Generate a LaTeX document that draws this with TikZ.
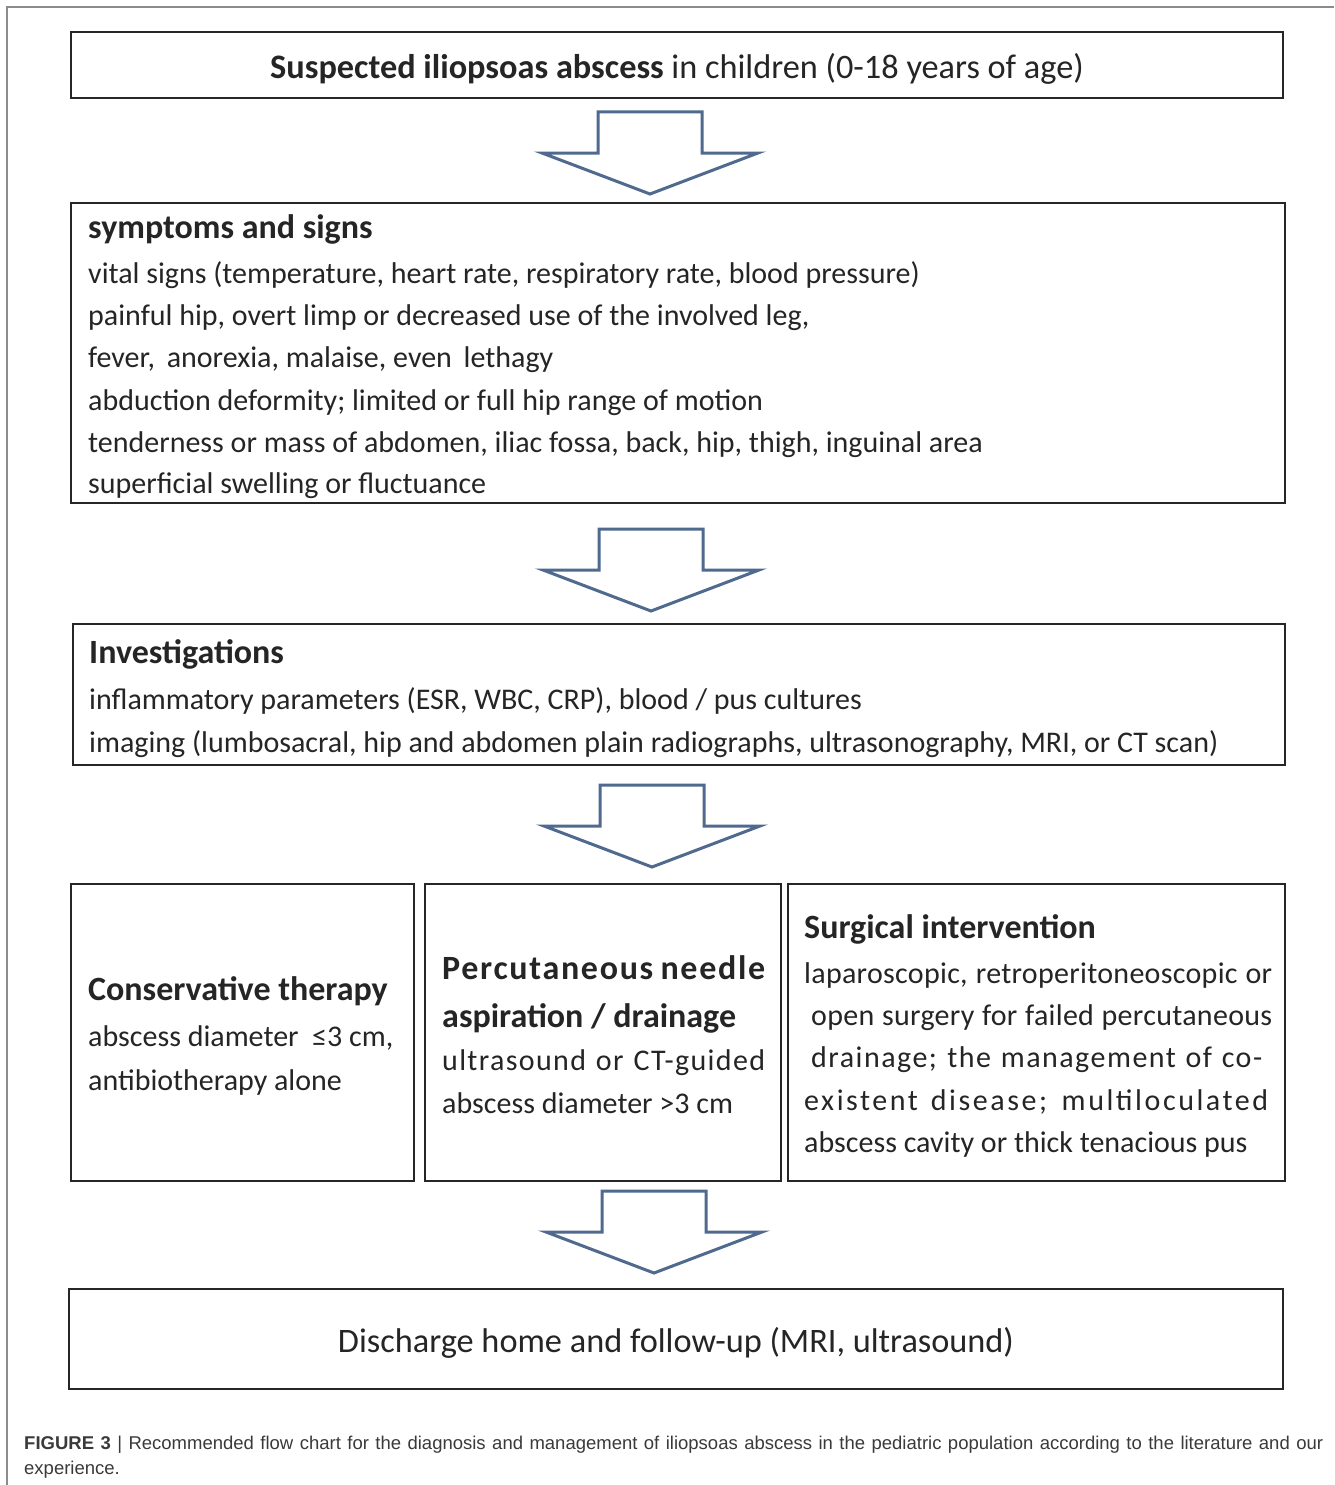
\documentclass[tikz,border=0pt]{standalone}
\usepackage{fontspec}
\setmainfont{Carlito}
\newfontfamily\capfont{Liberation Sans}
\usepackage{graphicx}
\usetikzlibrary{calc}
\definecolor{boxline}{HTML}{262626}
\definecolor{arrowblue}{HTML}{4F6A8E}
\definecolor{txt}{HTML}{252525}
\definecolor{captxt}{HTML}{3A3A3A}
\definecolor{framegray}{HTML}{8C8C8C}
\tikzset{
  box/.style={draw=boxline, line width=2.4pt, fill=white, rectangle, inner sep=0pt},
  ttl/.style={anchor=base west, inner sep=0pt, text=txt, font=\fontsize{34}{40}\selectfont\bfseries},
  bdy/.style={anchor=base west, inner sep=0pt, text=txt, font=\fontsize{30}{36}\selectfont},
  captext/.style={anchor=base west, inner sep=0pt, text=captxt, font=\capfont\fontsize{18.5}{22}\selectfont},
  arrowline/.style={draw=arrowblue, line width=3pt, fill=white, line join=miter},
  downarrow/.pic={\draw[arrowline] (-52,0) -- (52,0) -- (52,41) -- (108,41) -- (0,82) -- (-108,41) -- (-52,41) -- cycle;}
}
\begin{document}
\begin{tikzpicture}[x=1pt,y=-1pt]
\useasboundingbox (0,0) rectangle (1334,1485);
\fill[white] (0,0) rectangle (1334,1485);
\draw[framegray, line width=1.5pt] (7,1485) -- (7,7) -- (1334,7);

% boxes
\node[box, minimum width=1212pt, minimum height=66pt] (b1) at (677,65) {};
\node[box, minimum width=1214pt, minimum height=300pt] (b2) at (678,353) {};
\node[box, minimum width=1212pt, minimum height=141pt] (b3) at (679,694.5) {};
\node[box, minimum width=343pt, minimum height=297pt] (b4) at (242.5,1032.5) {};
\node[box, minimum width=356pt, minimum height=297pt] (b5) at (603,1032.5) {};
\node[box, minimum width=497pt, minimum height=297pt] (b6) at (1036.5,1032.5) {};
\node[box, minimum width=1214pt, minimum height=100pt] (b7) at (676,1339) {};

% block arrows
\pic at (650,112) {downarrow};
\pic at (651,529) {downarrow};
\pic at (652,785) {downarrow};
\pic at (654,1191) {downarrow};

% box 1
\node[anchor=base, inner sep=0pt, text=txt, font=\fontsize{34.3}{40}\selectfont] (t1) at (677,79)
  {\textbf{Suspected iliopsoas abscess} in children (0-18 years of age)};

% box 2
\node[ttl] (t2a) at (88,238) {symptoms and signs};
\node[bdy] (t2b) at (88,283) {vital signs (temperature, heart rate, respiratory rate, blood pressure)};
\node[bdy] (t2c) at (88,325) {painful hip, overt limp or decreased use of the involved leg,};
\node[bdy] (t2d) at (88,367) {fever,\, anorexia, malaise, even\, lethagy};
\node[bdy] (t2e) at (88,410) {abduction deformity; limited or full hip range of motion};
\node[bdy] (t2f) at (88,452) {tenderness or mass of abdomen, iliac fossa, back, hip, thigh, inguinal area};
\node[bdy] (t2g) at (88,493) {superficial swelling or fluctuance};

% box 3
\node[ttl] (t3a) at (89,663) {Investigations};
\node[bdy] (t3b) at (89,709) {inflammatory parameters (ESR, WBC, CRP), blood / pus cultures};
\node[bdy] (t3c) at (89,752) {imaging (lumbosacral, hip and abdomen plain radiographs, ultrasonography, MRI, or CT scan)};

% box 4
\node[ttl] (t4a) at (88,1000) {Conservative therapy};
\node[bdy] (t4b) at (88,1046) {abscess diameter\ \ ≤3 cm,};
\node[bdy] (t4c) at (88,1090) {antibiotherapy alone};

% box 5
\node[ttl] (t5a) at (442,979) {\addfontfeature{LetterSpace=5}\makebox[323pt][s]{Percutaneous needle}};
\node[ttl] (t5b) at (442,1027) {aspiration / drainage};
\node[bdy] (t5c) at (442,1070) {\addfontfeature{LetterSpace=4.5}\makebox[323pt][s]{ultrasound or CT-guided}};
\node[bdy] (t5d) at (442,1113) {abscess diameter >3 cm};

% box 6
\node[ttl] (t6a) at (804,938) {Surgical intervention};
\node[bdy] (t6b) at (804,983) {\addfontfeature{LetterSpace=1}\makebox[468pt][s]{laparoscopic, retroperitoneoscopic or}};
\node[bdy] (t6c) at (811,1025) {\addfontfeature{LetterSpace=1}\makebox[461pt][s]{open surgery for failed percutaneous}};
\node[bdy] (t6d) at (811,1067) {\addfontfeature{LetterSpace=5}\makebox[451pt][s]{drainage; the management of co-}};
\node[bdy] (t6e) at (804,1110) {\addfontfeature{LetterSpace=8.5}\makebox[464pt][s]{existent disease; multiloculated}};
\node[bdy] (t6f) at (804,1152) {abscess cavity or thick tenacious pus};

% box 7
\node[anchor=base, inner sep=0pt, text=txt, font=\fontsize{34.3}{40}\selectfont] (t7) at (676,1352)
  {Discharge home and follow-up (MRI, ultrasound)};

% caption
\node[captext] (cap1) at (24,1449)
  {\makebox[1299pt][s]{\textbf{FIGURE 3} | Recommended flow chart for the diagnosis and management of iliopsoas abscess in the pediatric population according to the literature and our}};
\node[captext] (cap2) at (24,1474) {experience.};
\end{tikzpicture}
\end{document}
